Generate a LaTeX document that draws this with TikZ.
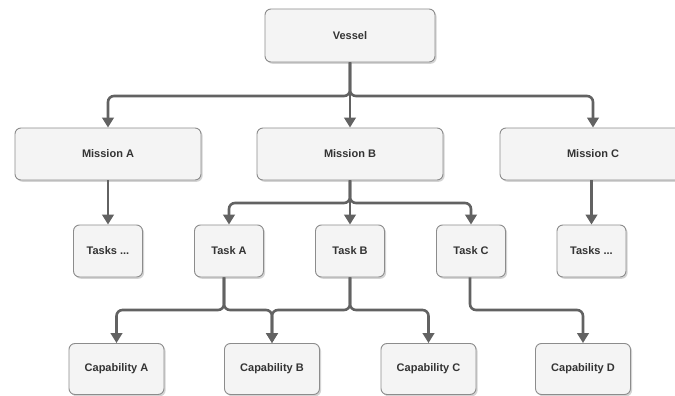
\documentclass[tikz,border=0pt]{standalone}
\usepackage{fontspec}
\setmainfont{Liberation Sans}
\usetikzlibrary{arrows.meta,shadows}
\definecolor{boxfill}{HTML}{F4F4F4}
\definecolor{boxline}{HTML}{8C8C8C}
\definecolor{txt}{HTML}{333333}
\definecolor{conn}{HTML}{626262}
\tikzset{
  box/.style={draw=boxline, line width=0.9pt, fill=boxfill, rounded corners=6pt,
    minimum height=52pt, inner sep=0pt, text=txt,
    font=\bfseries\fontsize{11}{13}\selectfont,
    drop shadow={shadow xshift=1.6pt, shadow yshift=-1.8pt, fill=black!28, opacity=0.6}},
  wide/.style={box, minimum width=186pt},
  vbox/.style={box, minimum width=170pt, minimum height=53pt},
  small/.style={box, minimum width=69pt},
  capbox/.style={box, minimum width=95pt, minimum height=51pt},
  conn/.style={draw=conn, line width=2.6pt, rounded corners=6pt,
    -{Triangle[length=10pt,width=11.5pt]}}
}
\begin{document}
\begin{tikzpicture}[x=1pt,y=-1pt]
\useasboundingbox (0,0) rectangle (675,396);
\clip (0,0) rectangle (675,396);
\fill[white] (0,0) rectangle (675,396);
% nodes
\node[vbox] (vessel) at (350,35.5) {Vessel};
\node[wide] (mA) at (108,154) {Mission A};
\node[wide] (mB) at (350,154) {Mission B};
\node[wide] (mC) at (593,154) {Mission C};
\node[small] (tL) at (108,251) {Tasks ...};
\node[small] (tA) at (229,251) {Task A};
\node[small] (tB) at (350,251) {Task B};
\node[small] (tC) at (471,251) {Task C};
\node[small] (tR) at (591.5,251) {Tasks ...};
\node[capbox] (cA) at (116.5,369) {Capability A};
\node[capbox] (cB) at (272,369) {Capability B};
\node[capbox] (cC) at (428.5,369) {Capability C};
\node[capbox] (cD) at (583,369) {Capability D};
% bus levels
\coordinate (b1) at (0,96);
\coordinate (b2) at (0,203);
\coordinate (b3) at (0,310);
% connectors
\draw[conn] (vessel.south) -- (vessel.south |- b1) -- (mA.north |- b1) -- (mA.north);
\draw[conn] (vessel.south) -- (mB.north);
\draw[conn] (vessel.south) -- (vessel.south |- b1) -- (mC.north |- b1) -- (mC.north);
\draw[conn] (mA.south) -- (tL.north);
\draw[conn] (mC.south -| tR.north) -- (tR.north);
\draw[conn] (mB.south) -- (mB.south |- b2) -- (tA.north |- b2) -- (tA.north);
\draw[conn] (mB.south) -- (tB.north);
\draw[conn] (mB.south) -- (mB.south |- b2) -- (tC.north |- b2) -- (tC.north);
\coordinate (tAo) at ([xshift=-5pt]tA.south);
\draw[conn] (tAo) -- (tAo |- b3) -- (cA.north |- b3) -- (cA.north);
\draw[conn] (tAo) -- (tAo |- b3) -- (cB.north |- b3) -- (cB.north);
\draw[conn] (tB.south) -- (tB.south |- b3) -- (cB.north |- b3) -- (cB.north);
\draw[conn] (tB.south) -- (tB.south |- b3) -- (cC.north |- b3) -- (cC.north);
\coordinate (tCo) at ([xshift=-1pt]tC.south);
\draw[conn] (tCo) -- (tCo |- b3) -- (cD.north |- b3) -- (cD.north);
\end{tikzpicture}
\end{document}
